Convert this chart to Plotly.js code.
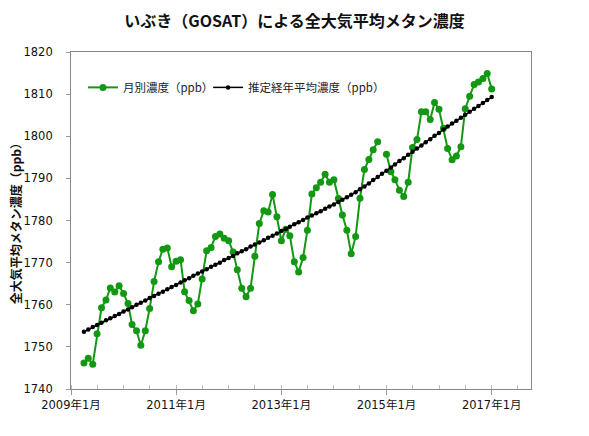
<!DOCTYPE html>
<html>
<head>
<meta charset="utf-8">
<script src="https://cdn.plot.ly/plotly-3.0.1.min.js"></script>
<style>
html,body{margin:0;padding:0;background:#fff;}
#chart{width:589px;height:436px;}
</style>
</head>
<body>
<div id="chart"></div>
<script>
// months (YYYY-MM), 2009-04 .. 2017-01
var months = [
'2009-04','2009-05','2009-06','2009-07','2009-08','2009-09','2009-10','2009-11','2009-12',
'2010-01','2010-02','2010-03','2010-04','2010-05','2010-06','2010-07','2010-08','2010-09','2010-10','2010-11','2010-12',
'2011-01','2011-02','2011-03','2011-04','2011-05','2011-06','2011-07','2011-08','2011-09','2011-10','2011-11','2011-12',
'2012-01','2012-02','2012-03','2012-04','2012-05','2012-06','2012-07','2012-08','2012-09','2012-10','2012-11','2012-12',
'2013-01','2013-02','2013-03','2013-04','2013-05','2013-06','2013-07','2013-08','2013-09','2013-10','2013-11','2013-12',
'2014-01','2014-02','2014-03','2014-04','2014-05','2014-06','2014-07','2014-08','2014-09','2014-10','2014-11','2014-12',
'2015-01','2015-02','2015-03','2015-04','2015-05','2015-06','2015-07','2015-08','2015-09','2015-10','2015-11','2015-12',
'2016-01','2016-02','2016-03','2016-04','2016-05','2016-06','2016-07','2016-08','2016-09','2016-10','2016-11','2016-12',
'2017-01'
];

// 月別濃度 (ppb)
var monthly = [
1746.2,1747.3,1745.9,1753.1,1759.3,1761.1,1764.0,1763.0,1764.5,
1762.7,1760.3,1755.3,1753.8,1750.4,1753.8,1759.1,1765.5,1770.2,1773.2,1773.5,1769.0,
1770.3,1770.7,1763.1,1761.0,1758.6,1760.2,1766.1,1772.8,1773.6,1776.2,1776.8,1775.8,
1775.2,1772.5,1768.3,1763.9,1761.9,1763.9,1771.5,1779.3,1782.3,1782.0,1786.2,1780.9,
1775.2,1777.9,1776.4,1770.2,1767.8,1771.2,1777.7,1786.3,1787.8,1789.1,1791.0,1789.1,
1789.7,1785.2,1781.3,1777.7,1772.1,1776.2,1785.3,1792.1,1794.5,1796.8,1798.7,null,
1795.7,1791.6,1789.7,1787.2,1785.7,1789.1,1797.3,1799.2,1805.8,1805.8,1804.0,1808.0,
1806.4,1801.9,1797.1,1794.4,1795.3,1797.5,1806.5,1809.5,1812.3,1812.9,1813.7,1814.9,
1811.2
];

// 推定経年平均濃度 (ppb)
var trend = [
1753.6,1754.1,1754.7,1755.2,1755.7,1756.3,1756.8,1757.3,1757.8,
1758.4,1758.9,1759.4,1760.0,1760.5,1761.0,1761.6,1762.1,1762.6,1763.1,1763.7,1764.2,
1764.7,1765.3,1765.8,1766.3,1766.9,1767.4,1767.9,1768.4,1769.0,1769.5,1770.0,1770.6,
1771.1,1771.6,1772.2,1772.7,1773.2,1773.8,1774.3,1774.8,1775.3,1775.9,1776.4,1776.9,
1777.5,1778.0,1778.5,1779.1,1779.6,1780.1,1780.7,1781.2,1781.7,1782.2,1782.8,1783.3,
1783.8,1784.4,1784.9,1785.5,1786.1,1786.7,1787.4,1788.1,1788.8,1789.6,1790.3,1791.1,
1791.8,1792.6,1793.3,1794.1,1794.8,1795.6,1796.3,1797.1,1797.8,1798.6,1799.3,1800.1,
1800.8,1801.6,1802.3,1803.0,1803.7,1804.4,1805.1,1805.8,1806.5,1807.2,1807.9,1808.6,
1809.3
];

var titleText = 'いぶき（GOSAT）による全大気平均メタン濃度';
var yTitle = '全大気平均メタン濃度（ppb）';
var name1 = '月別濃度（ppb）';
var name2 = '推定経年平均濃度（ppb）';

var jp = '"Noto Sans CJK JP", "DejaVu Sans", sans-serif';
var num = '"DejaVu Sans", "Noto Sans CJK JP", sans-serif';

var traces = [
  {
    x: months, y: monthly, name: name1, type: 'scatter', mode: 'lines+markers',
    connectgaps: false, legend: 'legend',
    line: {color: '#139813', width: 2},
    marker: {color: '#139813', size: 7}
  },
  {
    x: months, y: trend, name: name2, type: 'scatter', mode: 'lines+markers',
    legend: 'legend2',
    line: {color: '#000000', width: 1.5},
    marker: {color: '#000000', size: 4.5}
  }
];

var legendFont = {family: jp, size: 11.5, color: '#222'};

var layout = {
  width: 589, height: 436,
  paper_bgcolor: '#ffffff', plot_bgcolor: '#ffffff',
  margin: {l: 71, r: 58, t: 52, b: 47},
  title: {
    text: titleText, x: 0.5, xref: 'container', xanchor: 'center',
    y: 0.95, yref: 'container', yanchor: 'middle',
    font: {family: jp, size: 16, color: '#111', weight: 'bold'}
  },
  showlegend: true,
  legend: {
    orientation: 'h', x: 0.026, xanchor: 'left', y: 0.895, yanchor: 'middle',
    bgcolor: 'rgba(0,0,0,0)', font: legendFont, itemwidth: 30
  },
  legend2: {
    orientation: 'h', x: 0.298, xanchor: 'left', y: 0.895, yanchor: 'middle',
    bgcolor: 'rgba(0,0,0,0)', font: legendFont, itemwidth: 30
  },
  xaxis: {
    type: 'date',
    range: ['2009-01-01', '2017-10-01'],
    tick0: '2009-01-01', dtick: 'M24', tickformat: '%Y年%-m月',
    ticks: 'outside', ticklen: 5, tickcolor: '#999', tickwidth: 1,
    minor: {dtick: 'M6', ticks: 'inside', ticklen: 4, tickcolor: '#bbb', showgrid: false},
    showgrid: false, zeroline: false,
    showline: true, linecolor: '#888', linewidth: 1, mirror: true,
    tickfont: {family: num, size: 11.5, color: '#111'}
  },
  yaxis: {
    range: [1740, 1820], dtick: 10, tick0: 1740,
    ticks: 'outside', ticklen: 4, tickcolor: '#999',
    showgrid: false, zeroline: false,
    showline: true, linecolor: '#888', linewidth: 1, mirror: true,
    ticksuffix: '\u00a0\u00a0\u00a0',
    tickfont: {family: num, size: 11.5, color: '#111'}
  },
  annotations: [{
    text: yTitle, xref: 'paper', yref: 'paper', x: -0.12, y: 0.5,
    xanchor: 'center', yanchor: 'middle', textangle: -90, showarrow: false,
    font: {family: jp, size: 12, color: '#111', weight: 'bold'}
  }]
};

Plotly.newPlot('chart', traces, layout, {displayModeBar: false, staticPlot: true});
</script>
</body>
</html>
